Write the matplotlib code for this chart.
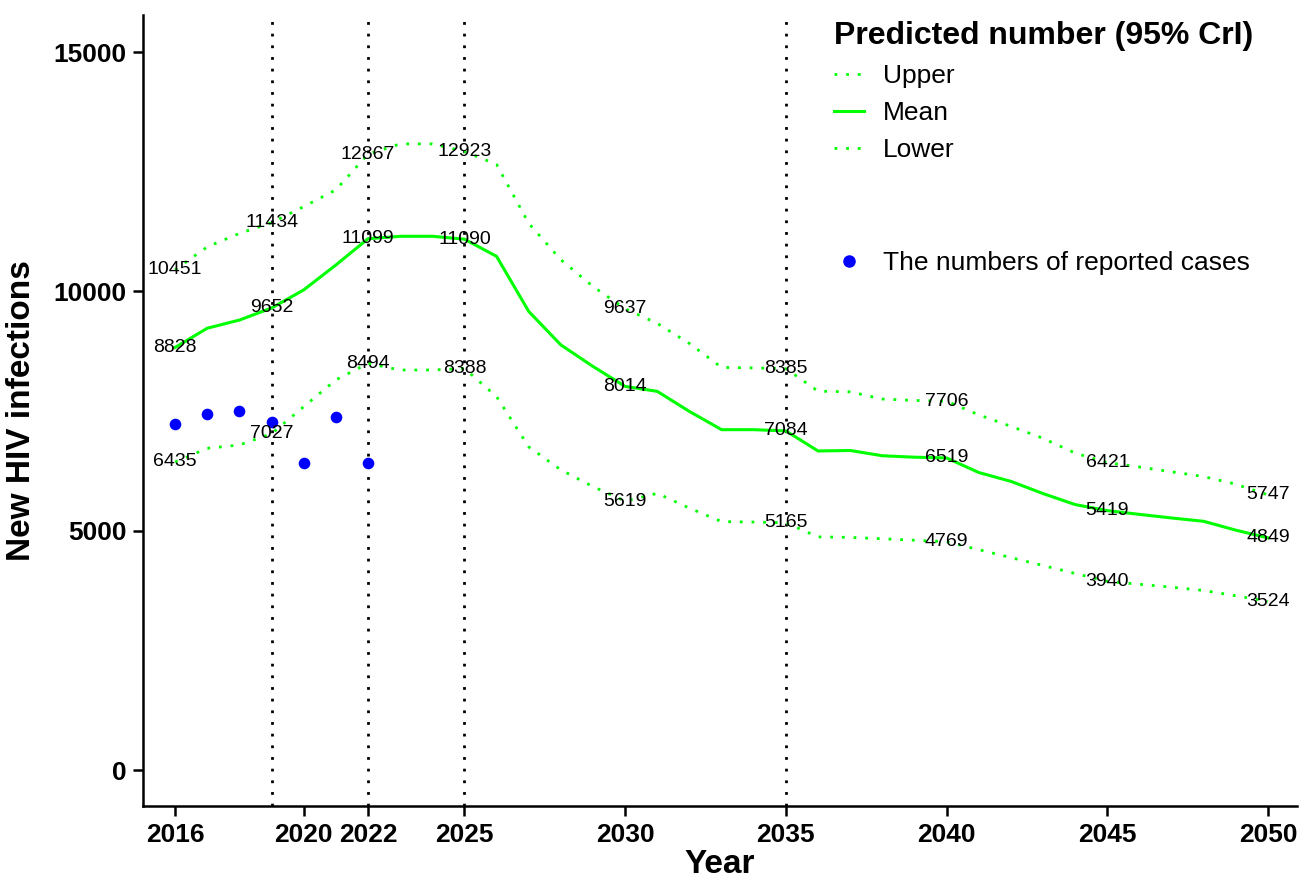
import matplotlib
matplotlib.use("Agg")
import matplotlib.pyplot as plt
from matplotlib.lines import Line2D

years = list(range(2016, 2051))
mean_vals = [8828, 9230, 9400, 9652, 10030, 10550, 11099, 11150, 11150, 11090,
             10730, 9580, 8880, 8430, 8014, 7910, 7490, 7110, 7110, 7084,
             6665, 6675, 6565, 6535, 6519, 6215, 6030, 5775, 5545, 5419,
             5340, 5265, 5195, 5010, 4849]
upper_vals = [10451, 10930, 11210, 11434, 11770, 12120, 12867, 13080, 13080, 12923,
              12650, 11420, 10660, 10100, 9637, 9330, 8910, 8410, 8400, 8385,
              7915, 7900, 7750, 7720, 7706, 7420, 7180, 6930, 6620, 6421,
              6330, 6230, 6130, 5970, 5747]
lower_vals = [6435, 6720, 6790, 7027, 7590, 8150, 8494, 8356, 8356, 8388,
              7800, 6750, 6270, 5920, 5619, 5780, 5470, 5190, 5180, 5165,
              4870, 4860, 4830, 4800, 4769, 4603, 4437, 4272, 4106, 3940,
              3880, 3820, 3750, 3640, 3524]

label_years = [2016, 2019, 2022, 2025, 2030, 2035, 2040, 2045, 2050]

reported_years = [2016, 2017, 2018, 2019, 2020, 2021, 2022]
reported_vals = [7228, 7437, 7506, 7276, 6420, 7375, 6420]

vline_years = [2019, 2022, 2025, 2035]
xticks = [2016, 2020, 2022, 2025, 2030, 2035, 2040, 2045, 2050]
yticks = [0, 5000, 10000, 15000]

plt.rcParams['font.family'] = ['Liberation Sans', 'DejaVu Sans']

fig = plt.figure(figsize=(12.99, 8.83), dpi=100)
ax = fig.add_axes([143/1299, 1-806/883, (1297-143)/1299, (806-15)/883])

green = '#00FF00'
dot = (0, (1, 3.2))

for xv in vline_years:
    ax.axvline(xv, color='black', lw=2.0, linestyle=dot, zorder=1)

ax.plot(years, upper_vals, color=green, lw=2.0, linestyle=dot, zorder=2)
ax.plot(years, mean_vals, color=green, lw=2.2, linestyle='-', zorder=2)
ax.plot(years, lower_vals, color=green, lw=2.0, linestyle=dot, zorder=2)

ax.scatter(reported_years, reported_vals, s=70, color='#0000FF', zorder=3, linewidths=0)

for series in (upper_vals, mean_vals, lower_vals):
    for y in label_years:
        v = series[years.index(y)]
        ax.text(y, v, str(v), ha='center', va='center', fontsize=14, color='black', zorder=4)

ax.set_xlim(2015.0, 2050.9)
ax.set_ylim(-752, 15773)
ax.set_xticks(xticks)
ax.set_yticks(yticks)
ax.set_xticklabels([str(t) for t in xticks])
ax.set_yticklabels([str(t) for t in yticks])
for lbl in ax.get_xticklabels() + ax.get_yticklabels():
    lbl.set_fontweight('bold')
    lbl.set_fontsize(19)
ax.tick_params(axis='both', direction='out', length=7, width=1.8, color='black', pad=5)
for s in ('top', 'right'):
    ax.spines[s].set_visible(False)
for s in ('left', 'bottom'):
    ax.spines[s].set_linewidth(1.8)

ax.set_xlabel('Year', fontsize=24, fontweight='bold', labelpad=2)
ax.set_ylabel('New HIV infections', fontsize=24, fontweight='bold', labelpad=12)

h1 = [Line2D([0], [0], color=green, lw=2.0, linestyle=dot),
      Line2D([0], [0], color=green, lw=2.2, linestyle='-'),
      Line2D([0], [0], color=green, lw=2.0, linestyle=dot)]
leg1 = fig.legend(h1, ['Upper', 'Mean', 'Lower'], title='Predicted number (95% CrI)',
                  loc='upper left', bbox_to_anchor=(816/1299, 1-3/883), frameon=False,
                  fontsize=19, title_fontproperties={'weight': 'bold', 'size': 23},
                  alignment='left', handlelength=1.1, handletextpad=0.75, labelspacing=0.5,
                  borderpad=0.2)
leg1._legend_box.sep = 9
h2 = [Line2D([0], [0], marker='o', color='#0000FF', linestyle='none', markersize=8)]
leg2 = fig.legend(h2, ['The numbers of reported cases'], loc='upper left',
                  bbox_to_anchor=(816/1299, 1-233/883), frameon=False, fontsize=19,
                  handlelength=1.1, handletextpad=0.75, borderpad=0.2)

fig.savefig('out.png', dpi=100)
